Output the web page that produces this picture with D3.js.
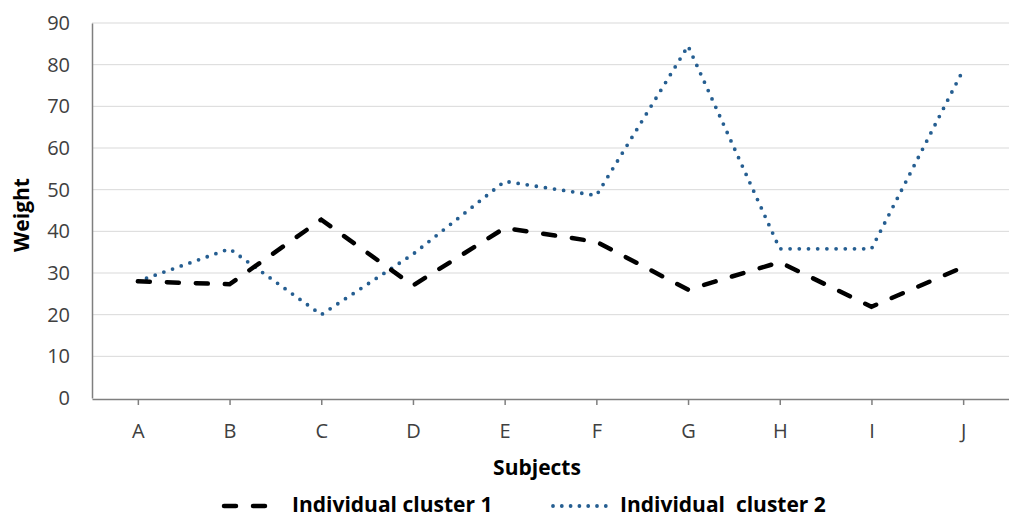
<!DOCTYPE html>
<html>
<head>
<meta charset="utf-8">
<script src="https://cdn.jsdelivr.net/npm/d3@7"></script>
<style>
  body { margin: 0; background: #fff; }
  svg { display: block; font-family: "Open Sans", sans-serif; }
</style>
</head>
<body>
<svg id="chart" width="1009" height="517"></svg>
<script>
var subjects = ["A", "B", "C", "D", "E", "F", "G", "H", "I", "J"];
var cluster1 = [28, 27.3, 42.8, 27, 40.8, 37.5, 26, 32.6, 21.9, 31.4];
var cluster2 = [28, 35.8, 20, 34.5, 52, 48.6, 84.5, 35.8, 35.8, 78.7];
var yTicks = [0, 10, 20, 30, 40, 50, 60, 70, 80, 90];
var seriesNames = ["Individual cluster 1", "Individual\u00a0 cluster 2"];

var svg = d3.select("#chart");
var plotLeft = 92, plotRight = 1009, plotTop = 23, plotBottom = 398;

var x = d3.scalePoint().domain(subjects).range([plotLeft, plotRight]).padding(0.5);
var y = d3.scaleLinear().domain([0, 90]).range([plotBottom, plotTop]);

// gridlines
svg.append("g").selectAll("line").data(yTicks.slice(1)).join("line")
  .attr("x1", plotLeft).attr("x2", plotRight)
  .attr("y1", function(d) { return y(d); }).attr("y2", function(d) { return y(d); })
  .attr("stroke", "#d9d9d9").attr("stroke-width", 1);

// y axis
var yAxis = svg.append("g").attr("transform", "translate(" + plotLeft + ",0)")
  .call(d3.axisLeft(y).tickValues(yTicks).tickSize(0).tickPadding(22))
  .attr("font-family", "'Open Sans', sans-serif");
yAxis.select(".domain").attr("stroke", "#7f7f7f").attr("stroke-width", 1.5);
yAxis.selectAll("text").attr("font-size", 20).attr("fill", "#404040");

// x axis
var xAxis = svg.append("g").attr("transform", "translate(0," + (plotBottom + 1) + ")")
  .call(d3.axisBottom(x).tickSize(6).tickPadding(19).tickSizeOuter(0))
  .attr("font-family", "'Open Sans', sans-serif");
xAxis.select(".domain").attr("stroke", "#7f7f7f").attr("stroke-width", 1.5);
xAxis.selectAll(".tick line").attr("stroke", "#7f7f7f").attr("stroke-width", 1.5);
xAxis.selectAll("text").attr("font-size", 20).attr("fill", "#404040");

// axis titles
svg.append("text").attr("x", 537).attr("y", 475).attr("text-anchor", "middle")
  .attr("font-size", 21).attr("font-weight", "bold").attr("fill", "#000").text("Subjects");
svg.append("text").attr("transform", "translate(29,215) rotate(-90)").attr("text-anchor", "middle")
  .attr("font-size", 21).attr("font-weight", "bold").attr("fill", "#000").text("Weight");

var line = d3.line()
  .x(function(d, i) { return x(subjects[i]); })
  .y(function(d) { return y(d); });

svg.append("path").attr("d", line(cluster2))
  .attr("fill", "none").attr("stroke", "#255e91").attr("stroke-width", 3.8)
  .attr("stroke-linecap", "round").attr("stroke-dasharray", "0 9.2");

svg.append("path").attr("d", line(cluster1))
  .attr("fill", "none").attr("stroke", "#000").attr("stroke-width", 4.5)
  .attr("stroke-linecap", "round").attr("stroke-dasharray", "12 17");

// legend
var legend = svg.append("g");
legend.append("line").attr("x1", 224).attr("x2", 270).attr("y1", 506).attr("y2", 506)
  .attr("stroke", "#000").attr("stroke-width", 4.5).attr("stroke-linecap", "round")
  .attr("stroke-dasharray", "12 17");
legend.append("text").attr("x", 292).attr("y", 512).attr("font-size", 21)
  .attr("font-weight", "bold").attr("fill", "#000").text(seriesNames[0]);
legend.append("line").attr("x1", 553).attr("x2", 606).attr("y1", 506).attr("y2", 506)
  .attr("stroke", "#255e91").attr("stroke-width", 3.8).attr("stroke-linecap", "round")
  .attr("stroke-dasharray", "0 8.8");
legend.append("text").attr("x", 620).attr("y", 512).attr("font-size", 21)
  .attr("font-weight", "bold").attr("fill", "#000").text(seriesNames[1]);
</script>
</body>
</html>
